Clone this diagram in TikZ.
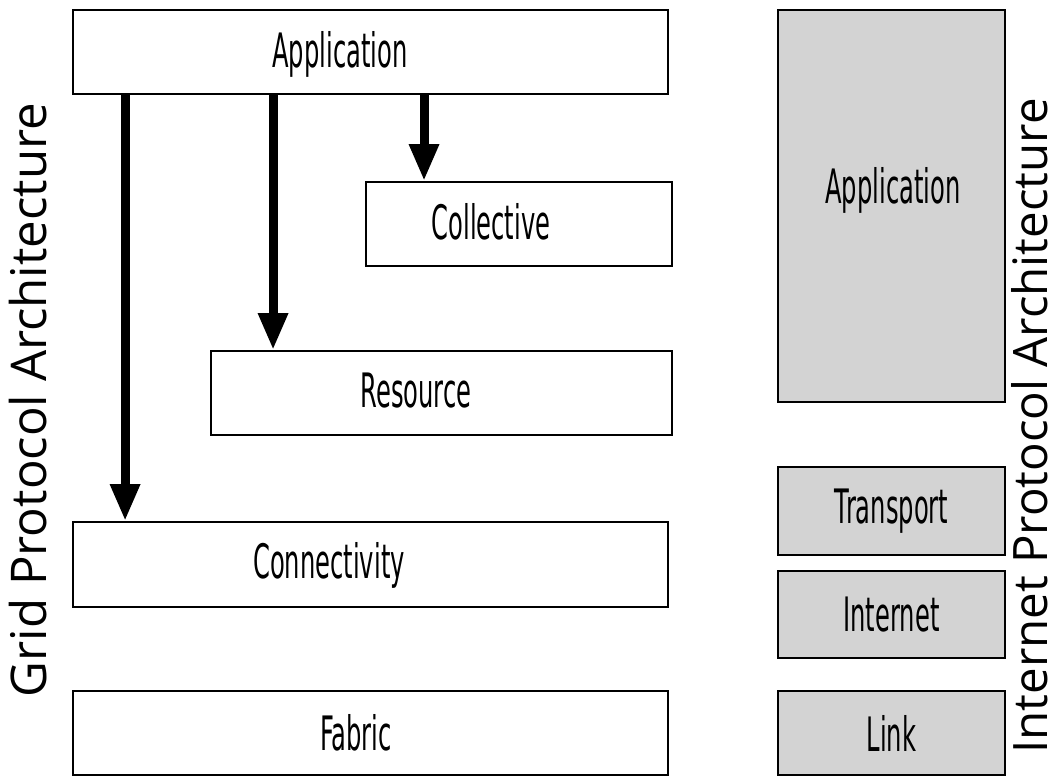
\documentclass[tikz,border=0pt]{standalone}
\usepackage{fontspec}
\setmainfont{Open Sans}
\newfontfamily\layerfont{DejaVu Sans}
\usepackage{tikz}
\usetikzlibrary{arrows.meta, positioning, calc}
\usepackage{xcolor}
\definecolor{layergray}{RGB}{211,211,211}

\newcommand{\boxtext}[1]{\layerfont\fontsize{27}{30}\selectfont\scalebox{0.51}[1]{#1}}

\begin{document}
\begin{tikzpicture}[x=0.02cm, y=-0.02cm,
  layer/.style={draw, line width=1.1pt, inner sep=0pt},
  ilayer/.style={layer, fill=layergray},
  flow/.style={line width=0.18cm, -{Triangle[length=0.74cm, width=0.56cm]}},
  side/.style={font=\fontsize{28}{30}\selectfont, rotate=90, inner sep=0pt}]
  \useasboundingbox (0,0) rectangle (1057,776);
  % Grid protocol layers
  \node[layer, minimum width=11.9cm, minimum height=1.68cm] (gapp) at (370.5,52) {};
  \node[layer, minimum width=6.12cm, minimum height=1.68cm] (coll) at (519,224) {};
  \node[layer, minimum width=9.22cm, minimum height=1.68cm] (res) at (441.5,393) {};
  \node[layer, minimum width=11.9cm, minimum height=1.70cm] (conn) at (370.5,564.5) {};
  \node[layer, minimum width=11.9cm, minimum height=1.68cm] (fab) at (370.5,733) {};
  \node (gappt) at (340,54) {\boxtext{Application}};
  \node (collt) at (491,222) {\boxtext{Collective}};
  \node (rest) at (416,391) {\boxtext{Resource}};
  \node (connt) at (329,565) {\boxtext{Connectivity}};
  \node (fabt) at (356,733) {\boxtext{Fabric}};
  % Internet protocol layers
  \node[ilayer, minimum width=4.54cm, minimum height=7.84cm] (iapp) at (891.5,206) {};
  \node[ilayer, minimum width=4.54cm, minimum height=1.76cm] (trans) at (891.5,511) {\boxtext{Transport}};
  \node[ilayer, minimum width=4.54cm, minimum height=1.74cm] (inet) at (891.5,614.5) {\boxtext{Internet}};
  \node[ilayer, minimum width=4.54cm, minimum height=1.68cm] (link) at (891.5,733) {\boxtext{Link}};
  \node (iappt) at (893,190) {\boxtext{Application}};
  % arrows
  \draw[flow] ([xshift=1.06cm]gapp.south west) coordinate (a1) -- (a1 |- conn.north);
  \draw[flow] ([xshift=4.02cm]gapp.south west) coordinate (a2) -- (a2 |- res.north);
  \draw[flow] ([xshift=7.04cm]gapp.south west) coordinate (a3) -- (a3 |- coll.north);
  % side titles
  \node[side] (gridt) at (28,400) {Grid Protocol Architecture};
  \node[side, font=\fontsize{27}{30}\selectfont] (inett) at (1030,426) {Internet Protocol Architecture};
\end{tikzpicture}
\end{document}
